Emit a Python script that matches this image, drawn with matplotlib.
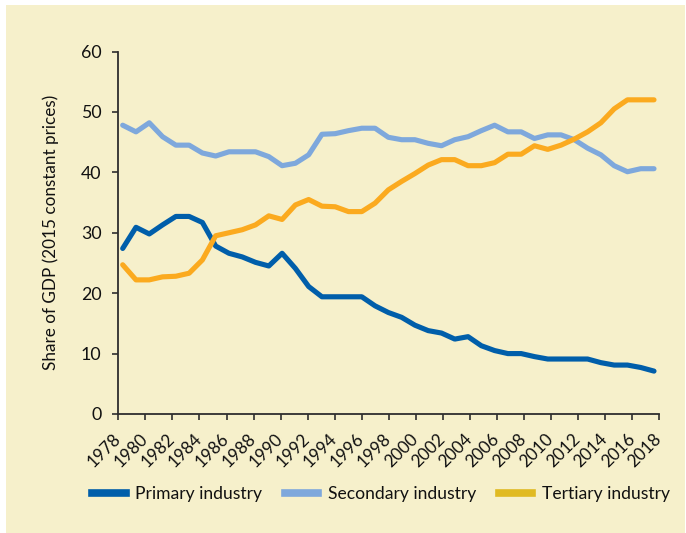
import matplotlib
matplotlib.use("Agg")
import matplotlib.pyplot as plt
from matplotlib import font_manager
from matplotlib.lines import Line2D
from matplotlib.patches import Rectangle
import matplotlib.transforms as mtransforms
import numpy as np

# ---------------- data ----------------
years = list(range(1978, 2019))
primary = [27.4, 30.9, 29.8, 31.3, 32.7, 32.7, 31.7, 27.8, 26.6, 26.0, 25.1, 24.5,
           26.6, 24.1, 21.1, 19.4, 19.4, 19.4, 19.4, 17.9, 16.8, 16.0, 14.7, 13.8,
           13.4, 12.4, 12.8, 11.3, 10.5, 10.0, 10.0, 9.5, 9.1, 9.1, 9.1, 9.1, 8.5,
           8.1, 8.1, 7.7, 7.1]
secondary = [47.8, 46.7, 48.2, 45.9, 44.5, 44.5, 43.2, 42.7, 43.4, 43.4, 43.4, 42.6,
             41.1, 41.5, 42.9, 46.3, 46.4, 46.9, 47.3, 47.3, 45.8, 45.4, 45.4, 44.8,
             44.4, 45.4, 45.9, 46.9, 47.8, 46.7, 46.7, 45.6, 46.2, 46.2, 45.4, 44.0,
             42.9, 41.1, 40.1, 40.6, 40.6]
tertiary = [24.7, 22.2, 22.2, 22.7, 22.8, 23.3, 25.5, 29.5, 30.0, 30.5, 31.3, 32.8,
            32.2, 34.6, 35.5, 34.4, 34.3, 33.5, 33.5, 34.9, 37.1, 38.5, 39.8, 41.2,
            42.1, 42.1, 41.1, 41.1, 41.6, 43.0, 43.0, 44.4, 43.8, 44.5, 45.5, 46.7,
            48.2, 50.5, 52.0, 52.0, 52.0]
series_names = ["Primary industry", "Secondary industry", "Tertiary industry"]
xtick_labels = [str(y) for y in range(1978, 2019, 2)]
ytick_values = [0, 10, 20, 30, 40, 50, 60]
ylabel = "Share of GDP (2015 constant prices)"

# ---------------- fonts ----------------
avail = {f.name for f in font_manager.fontManager.ttflist}
fam = [n for n in ["Lato", "Roboto", "Open Sans"] if n in avail][:1] + ["DejaVu Sans"]
plt.rcParams["font.family"] = fam
FS = 12.3

# ---------------- colours ----------------
c_primary = "#005EAA"
c_secondary = "#7EA8DC"
c_tertiary = "#FBAA1F"
c_tertiary_leg = "#E0BA22"
bg = "#F6F0CB"
dark = "#2E2E2E"
txt = "#111111"

W, H = 686, 533
fig = plt.figure(figsize=(W / 100, H / 100), dpi=100)
fig.patch.set_facecolor("white")
fig.patches.append(Rectangle((6 / W, 0), (685 - 6) / W, 1 - 5 / H,
                             transform=fig.transFigure, facecolor=bg,
                             edgecolor="none", zorder=-10))

ax_l, ax_r, ax_t, ax_b = 118.3, 659.3, 51.5, 414.0
ax = fig.add_axes([ax_l / W, 1 - ax_b / H, (ax_r - ax_l) / W, (ax_b - ax_t) / H])
ax.set_facecolor("none")

# x scale: data points at years; axis extends a bit beyond
px_per_year = (654.0 - 122.7) / 40
x0 = years[0] - (122.7 - ax_l) / px_per_year
x1 = years[-1] + (ax_r - 654.0) / px_per_year
ax.set_xlim(x0, x1)
ax.set_ylim(0, 60)

lw = 3.7
kw = dict(lw=lw, solid_capstyle="round", solid_joinstyle="round")
ax.plot(years, secondary, color=c_secondary, zorder=3, **kw)
ax.plot(years, primary, color=c_primary, zorder=4, **kw)
ax.plot(years, tertiary, color=c_tertiary, zorder=5, **kw)

for s in ["top", "right"]:
    ax.spines[s].set_visible(False)
for s in ["left", "bottom"]:
    ax.spines[s].set_color(dark)
    ax.spines[s].set_linewidth(1.3)

ax.set_yticks(ytick_values)
ax.set_yticklabels([str(v) for v in ytick_values], fontsize=FS + 0.5, color=txt)
ax.set_xticks(np.linspace(x0, x1, len(xtick_labels)))
ax.set_xticklabels(xtick_labels, fontsize=FS, color=txt,
                   rotation=45, ha="right", va="center", rotation_mode="anchor")
offset = mtransforms.ScaledTranslation(5 / 100, -2 / 100, fig.dpi_scale_trans)
for lab in ax.get_xticklabels():
    lab.set_transform(lab.get_transform() + offset)
ax.tick_params(axis="both", direction="out", length=4, width=1.2, color=dark)
ax.tick_params(axis="y", pad=8)
ax.tick_params(axis="x", pad=12)

ax.set_ylabel(ylabel, fontsize=FS, color=txt)
ax.yaxis.set_label_coords((59 - ax_l) / (ax_r - ax_l), 0.5)

handles = [Line2D([], [], color=c, lw=5.5) for c in (c_primary, c_secondary, c_tertiary_leg)]
fig.legend(handles, series_names, loc="center", ncol=3, frameon=False,
           fontsize=FS + 0.3, handlelength=1.9, handletextpad=0.55, columnspacing=1.3,
           bbox_to_anchor=(381 / W, 1 - 494 / H), labelcolor=txt)

fig.savefig("out.png", dpi=100, facecolor=fig.get_facecolor())
